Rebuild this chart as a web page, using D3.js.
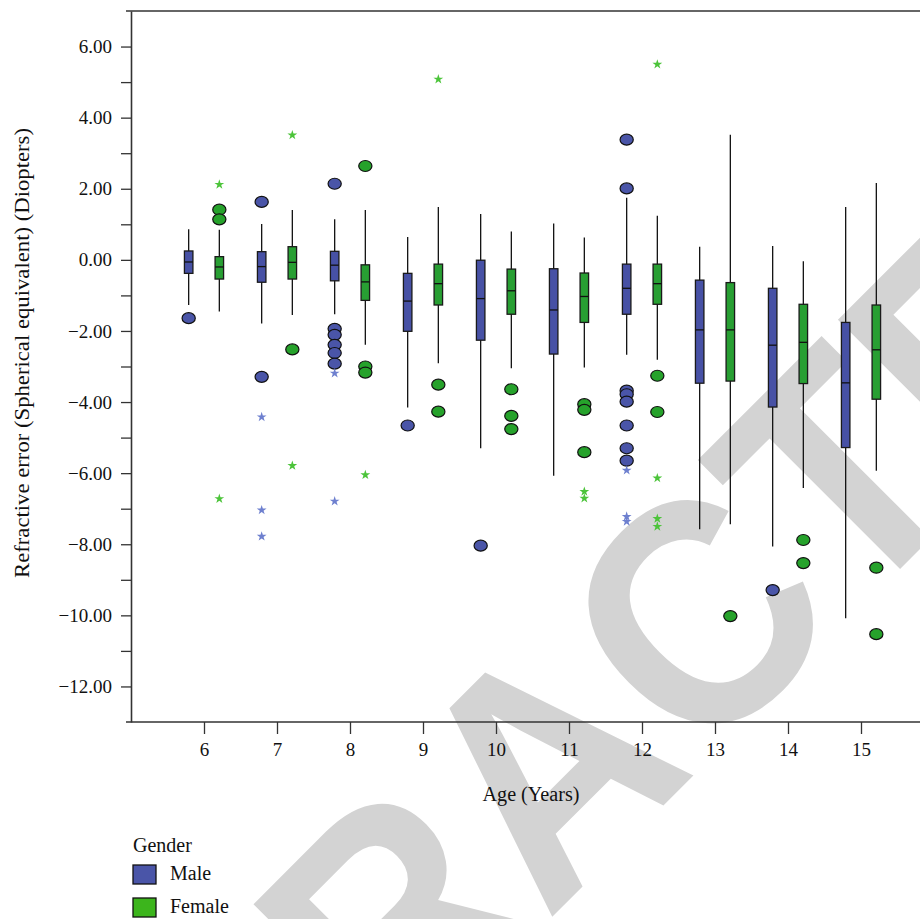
<!DOCTYPE html>
<html>
<head>
<meta charset="utf-8">
<script src="https://cdn.jsdelivr.net/npm/d3@7"></script>
<style>
  html, body { margin: 0; padding: 0; background: #fff; }
  svg { display: block; }
  text { font-family: "Liberation Serif", "Times New Roman", serif; fill: #111; }
</style>
</head>
<body>
<svg id="chart" width="920" height="919"></svg>
<script>
// ---------------- data ----------------
const ages = [6, 7, 8, 9, 10, 11, 12, 13, 14, 15];

// Male box statistics (upper whisker, Q3, median, Q1, lower whisker)
const maleHigh   = [0.86, 1.01, 1.14, 0.64, 1.29, 1.02, 1.75, 0.37, 0.39, 1.49];
const maleQ3     = [0.25, 0.23, 0.24, -0.38, -0.01, -0.25, -0.12, -0.57, -0.80, -1.76];
const maleMedian = [-0.06, -0.19, -0.15, -1.16, -1.09, -1.41, -0.80, -1.97, -2.40, -3.46];
const maleQ1     = [-0.38, -0.63, -0.59, -2.01, -2.26, -2.65, -1.53, -3.47, -4.14, -5.28];
const maleLow    = [-1.27, -1.79, -1.53, -4.15, -5.30, -6.07, -2.67, -7.58, -8.06, -10.08];

// Female box statistics
const femaleHigh   = [0.85, 1.40, 1.40, 1.49, 0.80, 0.63, 1.24, 3.52, -0.04, 2.16];
const femaleQ3     = [0.09, 0.37, -0.14, -0.12, -0.26, -0.37, -0.12, -0.64, -1.25, -1.27];
const femaleMedian = [-0.20, -0.07, -0.62, -0.67, -0.87, -1.03, -0.67, -1.97, -2.32, -2.53];
const femaleQ1     = [-0.54, -0.54, -1.14, -1.27, -1.53, -1.76, -1.25, -3.41, -3.48, -3.92];
const femaleLow    = [-1.45, -1.55, -2.39, -2.91, -3.05, -3.03, -2.81, -7.44, -6.42, -5.93];

// Outliers (circles): [age, value]
const maleOutliers = [
  [6, -1.64], [7, 1.63], [7, -3.29],
  [8, 2.14], [8, -1.94], [8, -2.11], [8, -2.39], [8, -2.62], [8, -2.92],
  [9, -4.66], [10, -8.04],
  [12, 3.38], [12, 2.01], [12, -3.68], [12, -3.78], [12, -3.99], [12, -4.66], [12, -5.30], [12, -5.65],
  [14, -9.29]
];
const femaleOutliers = [
  [6, 1.41], [6, 1.14], [7, -2.52],
  [8, 2.64], [8, -3.00], [8, -3.17],
  [9, -3.51], [9, -4.27],
  [10, -3.64], [10, -4.39], [10, -4.76],
  [11, -4.06], [11, -4.22], [11, -5.41],
  [12, -3.26], [12, -4.28],
  [13, -10.02], [14, -7.88], [14, -8.53], [15, -8.66], [15, -10.53]
];
// Extreme values (stars): [age, value]
const maleExtremes = [
  [7, -4.42], [7, -7.04], [7, -7.78],
  [8, -3.19], [8, -6.79],
  [12, -5.92], [12, -7.22], [12, -7.36]
];
const femaleExtremes = [
  [6, 2.12], [6, -6.72], [7, 3.51], [7, -5.79], [8, -6.05],
  [9, 5.08], [11, -6.52], [11, -6.71],
  [12, 5.50], [12, -6.14], [12, -7.28], [12, -7.50]
];

const yTicks = [-12, -10, -8, -6, -4, -2, 0, 2, 4, 6];
const yMinorTicks = [-11, -9, -7, -5, -3, -1, 1, 3, 5];
const groups = ["Male", "Female"];
const watermark = "RETRACTED";

// ---------------- drawing ----------------
const svg = d3.select("#chart");
const x = d3.scaleLinear().domain([5, 16]).range([131, 934]);
const y = d3.scaleLinear().domain([-13, 7]).range([722, 11]);

const colors = {
  Male:   { box: "#4751A5", circle: "#4A55A8", star: "#6E80CF", legend: "#4A55A8" },
  Female: { box: "#289F33", circle: "#26A22B", star: "#4CC43A", legend: "#3CB51C" }
};
const offset = { Male: -0.21, Female: 0.21 };
const boxW = 8.5;
const serif = "'Liberation Serif', 'Times New Roman', serif";

// watermark (behind the chart)
svg.append("text")
  .attr("transform", "translate(623,846) rotate(-45) scale(0.93,1)")
  .attr("text-anchor", "middle")
  .attr("font-family", "'Liberation Sans', Arial, sans-serif")
  .attr("font-weight", "bold")
  .attr("font-size", 320)
  .style("font-family", "'Liberation Sans', Arial, sans-serif")
  .style("fill", "#d3d3d3")
  .text(watermark);

// frame lines (top and bottom, slightly extended to the left)
[7, -13].forEach(v => {
  svg.append("line")
    .attr("x1", x(5) - 5).attr("x2", x(16))
    .attr("y1", y(v)).attr("y2", y(v))
    .attr("stroke", "#333").attr("stroke-width", 1.6);
});

// axes
const yAxis = svg.append("g").attr("transform", `translate(${x(5)},0)`)
  .call(d3.axisLeft(y).tickValues(yTicks).tickFormat(d3.format(".2f"))
    .tickSizeInner(10).tickSizeOuter(0).tickPadding(9));
const yMinor = svg.append("g").attr("transform", `translate(${x(5)},0)`)
  .call(d3.axisLeft(y).tickValues(yMinorTicks).tickFormat("").tickSizeInner(10).tickSizeOuter(0));
const xAxis = svg.append("g").attr("transform", `translate(0,${y(-13)})`)
  .call(d3.axisBottom(x).tickValues(ages).tickFormat(d3.format("d"))
    .tickSizeInner(12).tickSizeOuter(0).tickPadding(9));

[yAxis, yMinor, xAxis].forEach(g => {
  g.attr("font-family", null).attr("font-size", null);
  g.select(".domain").attr("stroke", "#333").attr("stroke-width", 1.6);
  g.selectAll(".tick line").attr("stroke", "#333").attr("stroke-width", 1.3);
  g.selectAll(".tick text")
    .attr("font-family", serif).style("font-family", serif)
    .style("font-size", "19px").attr("fill", "#111");
});
yMinor.select(".domain").remove();
xAxis.select(".domain").remove();

// axis titles
svg.append("text")
  .attr("transform", "translate(29,353) rotate(-90)")
  .attr("text-anchor", "middle")
  .style("font-size", "21px")
  .attr("textLength", 450).attr("lengthAdjust", "spacingAndGlyphs")
  .text("Refractive error (Spherical equivalent) (Diopters)");
svg.append("text")
  .attr("x", 531).attr("y", 801)
  .attr("text-anchor", "middle")
  .style("font-size", "20px")
  .attr("textLength", 97).attr("lengthAdjust", "spacingAndGlyphs")
  .text("Age (Years)");

// boxes
const plot = svg.append("g");
const stats = {
  Male:   { hi: maleHigh, q3: maleQ3, med: maleMedian, q1: maleQ1, lo: maleLow },
  Female: { hi: femaleHigh, q3: femaleQ3, med: femaleMedian, q1: femaleQ1, lo: femaleLow }
};
groups.forEach(gname => {
  const s = stats[gname];
  const data = ages.map((a, i) => ({ a, hi: s.hi[i], q3: s.q3[i], med: s.med[i], q1: s.q1[i], lo: s.lo[i] }));
  const g = plot.append("g");
  const cx = d => x(d.a + offset[gname]);
  g.selectAll("line.whisker").data(data).join("line")
    .attr("class", "whisker")
    .attr("x1", cx).attr("x2", cx)
    .attr("y1", d => y(d.hi)).attr("y2", d => y(d.lo))
    .attr("stroke", "#111").attr("stroke-width", 1.3);
  g.selectAll("rect").data(data).join("rect")
    .attr("x", d => cx(d) - boxW / 2).attr("width", boxW)
    .attr("y", d => y(d.q3)).attr("height", d => y(d.q1) - y(d.q3))
    .attr("fill", colors[gname].box).attr("stroke", "#1a1a1a").attr("stroke-width", 1.3);
  g.selectAll("line.median").data(data).join("line")
    .attr("class", "median")
    .attr("x1", d => cx(d) - boxW / 2).attr("x2", d => cx(d) + boxW / 2)
    .attr("y1", d => y(d.med)).attr("y2", d => y(d.med))
    .attr("stroke", "#111").attr("stroke-width", 1.3);
});

// outliers and extremes
const outl = { Male: maleOutliers, Female: femaleOutliers };
const extr = { Male: maleExtremes, Female: femaleExtremes };
const star = d3.symbol().type(d3.symbolStar).size(30);
groups.forEach(gname => {
  plot.append("g").selectAll("ellipse").data(outl[gname]).join("ellipse")
    .attr("cx", d => x(d[0] + offset[gname])).attr("cy", d => y(d[1]))
    .attr("rx", 6.6).attr("ry", 5.5)
    .attr("fill", colors[gname].circle).attr("stroke", "#111").attr("stroke-width", 1.2);
  plot.append("g").selectAll("path").data(extr[gname]).join("path")
    .attr("transform", d => `translate(${x(d[0] + offset[gname])},${y(d[1])})`)
    .attr("d", star)
    .attr("fill", colors[gname].star);
});

// legend
const legend = svg.append("g");
legend.append("text").attr("x", 133).attr("y", 852).style("font-size", "20px").text("Gender");
groups.forEach((gname, i) => {
  legend.append("rect")
    .attr("x", 133).attr("y", 865 + i * 33).attr("width", 23).attr("height", 19)
    .attr("fill", colors[gname].legend).attr("stroke", "#111").attr("stroke-width", 1.3);
  legend.append("text")
    .attr("x", 170).attr("y", 880 + i * 33)
    .style("font-size", "20px").text(gname);
});
</script>
</body>
</html>
